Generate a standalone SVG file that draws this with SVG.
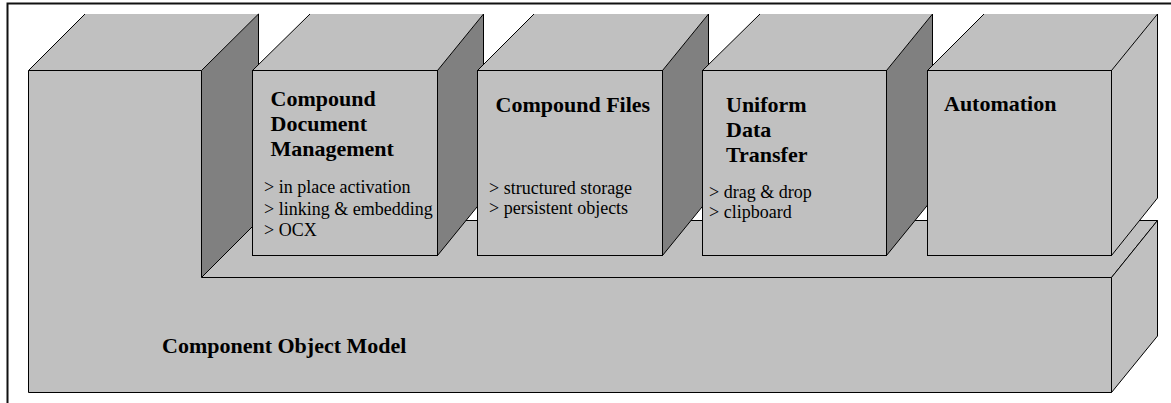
<svg xmlns="http://www.w3.org/2000/svg" width="1171" height="403" viewBox="0 0 1171 403">
  <style>
    .face { fill: #c0c0c0; stroke: #000; stroke-width: 1; stroke-linejoin: miter; }
    .fill { fill: #c0c0c0; stroke: none; }
    .fillDark { fill: #808080; stroke: none; }
    .edge { fill: none; stroke: #000; stroke-width: 1; }
    .title { font-family: 'Liberation Serif', 'DejaVu Serif', serif; font-weight: bold; font-size: 22px; fill: #000; }
    .item { font-family: 'Liberation Serif', 'DejaVu Serif', serif; font-size: 18px; fill: #000; }
  </style>

  <rect width="1171" height="403" fill="#fff"/>

  <!-- page frame -->
  <path d="M7.5,403 L7.5,3.5 L1171,3.5" fill="none" stroke="#111" stroke-width="2"/>

  <!-- base block: Component Object Model -->
  <g id="com">
    <!-- top of the tall column (clipped at the top) -->
    <polygon class="fill" points="28.5,70.5 85,14 258.5,14 201.5,70.5"/>
    <polyline class="edge" points="28.5,70.5 85,14"/>
    <!-- side of the tall column -->
    <polygon class="fillDark" points="201.5,70.5 258.5,14 258.5,220.5 201.5,277.5"/>
    <polyline class="edge" points="201.5,70.5 258.5,14"/>
    <polyline class="edge" points="258.5,14 258.5,220.5"/>
    <!-- top of the long lower part -->
    <polygon class="face" points="201.5,277.5 258.5,220.5 1157.5,220.5 1111.5,277.5"/>
    <!-- right side of the lower part -->
    <polygon class="face" points="1111.5,277.5 1157.5,220.5 1157.5,336 1111.5,392.5"/>
    <!-- L-shaped front face -->
    <polygon class="face" points="28.5,70.5 201.5,70.5 201.5,277.5 1111.5,277.5 1111.5,392.5 28.5,392.5"/>
    <text class="title" x="162" y="353" font-family="Liberation Serif, serif">Component Object Model</text>
  </g>

  <!-- Compound Document Management -->
  <g id="compound-document">
    <polygon class="fill" points="252.5,70.5 310,14 483.5,14 437.5,70.5"/>
    <polyline class="edge" points="252.5,70.5 310,14"/>
    <polygon class="fillDark" points="437.5,70.5 483.5,14 483.5,199 437.5,255.5"/>
    <polyline class="edge" points="437.5,70.5 483.5,14 483.5,199 437.5,255.5"/>
    <rect class="face" x="252.5" y="70.5" width="185" height="185"/>
    <text class="title" x="270.5" y="106">Compound</text>
    <text class="title" x="270.5" y="131">Document</text>
    <text class="title" x="270.5" y="156">Management</text>
    <text class="item" x="264" y="193">&gt; in place activation</text>
    <text class="item" x="264" y="214.5">&gt; linking &amp; embedding</text>
    <text class="item" x="264" y="235.5">&gt; OCX</text>
  </g>

  <!-- Compound Files -->
  <g id="compound-files">
    <polygon class="fill" points="477.5,70.5 534,14 708.5,14 662.5,70.5"/>
    <polyline class="edge" points="477.5,70.5 534,14"/>
    <polygon class="fillDark" points="662.5,70.5 708.5,14 708.5,199 662.5,255.5"/>
    <polyline class="edge" points="662.5,70.5 708.5,14 708.5,199 662.5,255.5"/>
    <rect class="face" x="477.5" y="70.5" width="185" height="185"/>
    <text class="title" x="495.5" y="111.5">Compound Files</text>
    <text class="item" x="489" y="193.5">&gt; structured storage</text>
    <text class="item" x="489" y="213.5">&gt; persistent objects</text>
  </g>

  <!-- Uniform Data Transfer -->
  <g id="uniform-data-transfer">
    <polygon class="fill" points="702.5,70.5 760,14 932.5,14 886.5,70.5"/>
    <polyline class="edge" points="702.5,70.5 760,14"/>
    <polygon class="fillDark" points="886.5,70.5 932.5,14 932.5,199 886.5,255.5"/>
    <polyline class="edge" points="886.5,70.5 932.5,14 932.5,199 886.5,255.5"/>
    <rect class="face" x="702.5" y="70.5" width="184" height="185"/>
    <text class="title" x="726" y="111.5">Uniform</text>
    <text class="title" x="726" y="136.5">Data</text>
    <text class="title" x="726" y="161.5">Transfer</text>
    <text class="item" x="709" y="198">&gt; drag &amp; drop</text>
    <text class="item" x="709" y="218">&gt; clipboard</text>
  </g>

  <!-- Automation -->
  <g id="automation">
    <polygon class="fill" points="927.5,70.5 984,14 1157.5,14 1111.5,70.5"/>
    <polyline class="edge" points="927.5,70.5 984,14"/>
    <polygon class="fill" points="1111.5,70.5 1157.5,14 1157.5,198 1111.5,255.5"/>
    <polyline class="edge" points="1111.5,70.5 1157.5,14 1157.5,198 1111.5,255.5"/>
    <rect class="face" x="927.5" y="70.5" width="184" height="185"/>
    <text class="title" x="944" y="111">Automation</text>
  </g>
</svg>
